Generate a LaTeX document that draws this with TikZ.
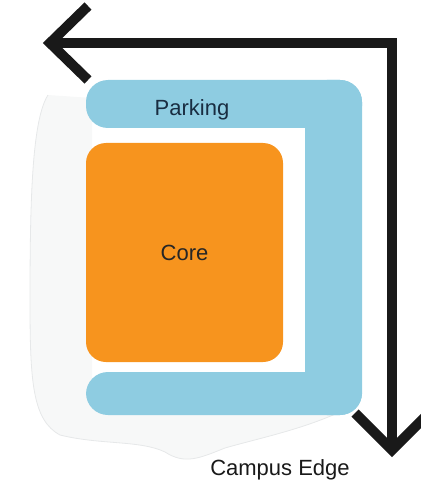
\documentclass[tikz,border=0pt]{standalone}
\usepackage{fontspec}
\setmainfont{Liberation Sans}
\definecolor{parkblue}{RGB}{142,204,225}
\definecolor{coreorange}{RGB}{247,148,30}
\definecolor{navytext}{RGB}{25,45,65}
\definecolor{blobgray}{RGB}{247,248,248}
\definecolor{blobedge}{RGB}{230,232,233}
\tikzset{
  edgeline/.style={line width=10pt, draw=black!90, line join=miter, line cap=butt},
  headline/.style={line width=10pt, draw=black!90, line join=miter, line cap=butt},
  lbl/.style={font=\fontsize{22}{26}\selectfont, inner sep=0pt},
  parkfill/.style={fill=parkblue, rounded corners=22pt},
}
\begin{document}
\begin{tikzpicture}[x=1pt,y=-1pt]
\useasboundingbox (0,0) rectangle (420,489);
% faint campus blob
\fill[blobgray] (92,98) -- (48,95) .. controls (32,120) and (30,200) .. (30,300)
  .. controls (30,380) and (32,420) .. (60,435)
  .. controls (100,445) and (140,440) .. (165,452)
  .. controls (185,465) and (200,458) .. (225,448)
  .. controls (260,438) and (300,430) .. (340,412)
  -- (92,405) -- cycle;
\draw[blobedge, line width=0.8pt] (48,95) .. controls (32,120) and (30,200) .. (30,300)
  .. controls (30,380) and (32,420) .. (60,435)
  .. controls (100,445) and (140,440) .. (165,452)
  .. controls (185,465) and (200,458) .. (225,448)
  .. controls (260,438) and (300,430) .. (340,412);
% parking
\fill[parkfill] (86,80) rectangle (362,128);
\fill[parkfill] (305,80) rectangle (362,415);
\fill[parkfill] (86,372) rectangle (362,415);
\node[lbl, text=navytext] (parking) at (192,110) {Parking};
% core
\node[fill=coreorange, rounded corners=20pt, minimum width=197pt, minimum height=219pt, inner sep=0pt] (core) at (184.5,252.5) {};
\node[lbl, text=black!85] (coretext) at (core.center) {Core};
% campus edge arrow
\coordinate (tipL) at (50,43);
\coordinate (corner) at (392,43);
\coordinate (tipB) at (392,450);
\coordinate (armL1) at (88,6);
\coordinate (armL2) at (88,80);
\coordinate (armB1) at (355,413);
\coordinate (armB2) at (429,413);
\draw[edgeline] (tipL) -- (corner) -- (tipB);
\draw[headline] (armL1) -- (tipL) -- (armL2);
\draw[headline] (armB1) -- (tipB) -- (armB2);
\node[lbl, text=black!90] (edge) at (280,470) {Campus Edge};
\end{tikzpicture}
\end{document}
